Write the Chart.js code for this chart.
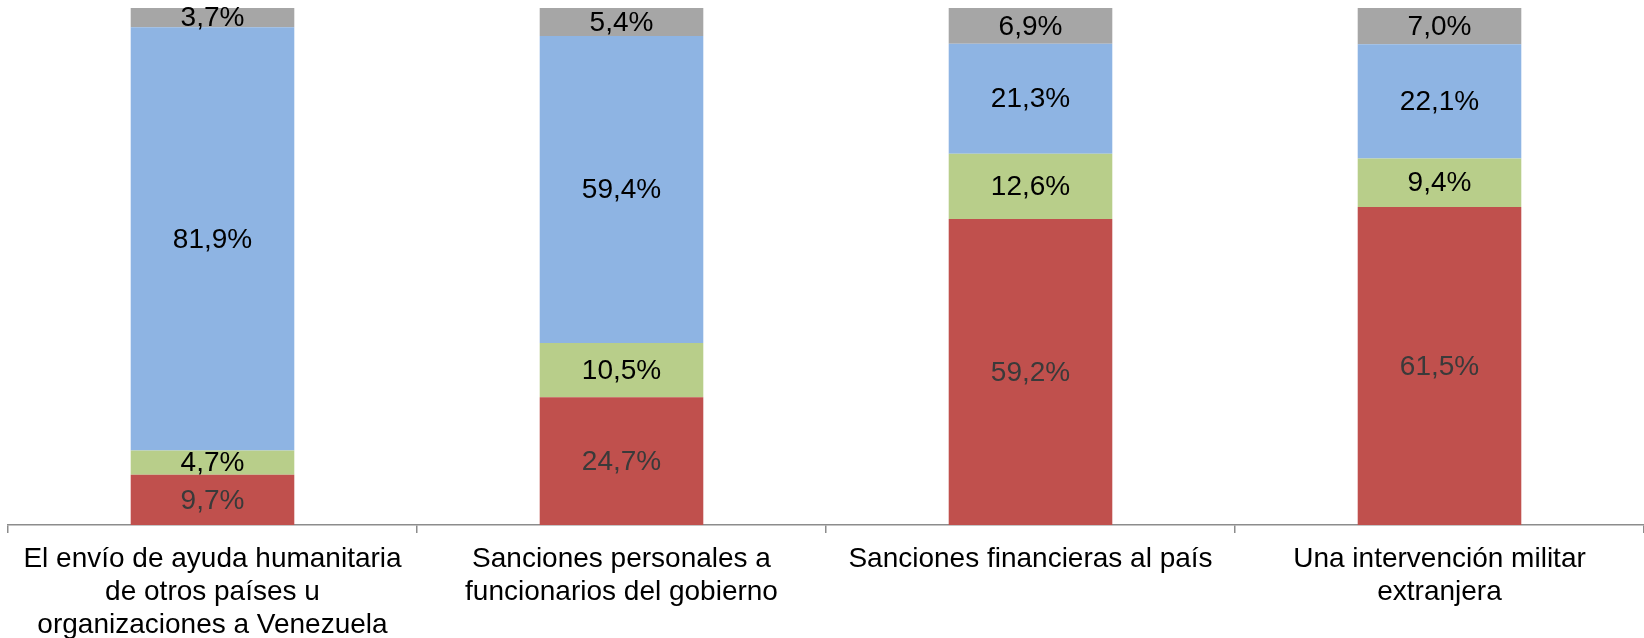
<!DOCTYPE html>
<html>
<head>
<meta charset="utf-8">
<script src="https://cdn.jsdelivr.net/npm/chart.js@4/dist/chart.umd.min.js"></script>
<style>
  body { margin: 0; background: #fff; }
  #wrap { width: 1644px; height: 638px; }
</style>
</head>
<body>
<div id="wrap"><canvas id="chart"></canvas></div>
<script>
// categories, each label split into its lines
const categories = [
    ['El envío de ayuda humanitaria', 'de otros países u', 'organizaciones a Venezuela'],
    ['Sanciones personales a', 'funcionarios del gobierno'],
    ['Sanciones financieras al país'],
    ['Una intervención militar', 'extranjera']
];
// stacked from bottom to top
const redValues = [9.7, 24.7, 59.2, 61.5];
const greenValues = [4.7, 10.5, 12.6, 9.4];
const blueValues = [81.9, 59.4, 21.3, 22.1];
const grayValues = [3.7, 5.4, 6.9, 7.0];

const FONT = 'Liberation Sans, Arial, sans-serif';

// draw the value in the middle of every segment
const segmentLabels = {
    id: 'segmentLabels',
    afterDatasetsDraw(chart) {
        const ctx = chart.ctx;
        ctx.save();
        ctx.font = '28px ' + FONT;
        ctx.textAlign = 'center';
        ctx.textBaseline = 'middle';
        chart.data.datasets.forEach((ds, i) => {
            const meta = chart.getDatasetMeta(i);
            meta.data.forEach((bar, j) => {
                const v = ds.data[j];
                const y = (bar.y + bar.base) / 2;
                ctx.fillStyle = ds.labelColor;
                ctx.fillText(v.toFixed(1).replace('.', ',') + '%', bar.x, y + 1);
            });
        });
        ctx.restore();
    }
};

// category names under the axis, placed at the scale's own tick positions
// (drawn here so the last line may run right to the bottom edge)
const categoryLabels = {
    id: 'categoryLabels',
    afterDraw(chart) {
        const ctx = chart.ctx;
        const xScale = chart.scales.x;
        const top = chart.chartArea.bottom;
        ctx.save();
        ctx.font = '28px ' + FONT;
        ctx.fillStyle = '#000';
        ctx.textAlign = 'center';
        ctx.textBaseline = 'middle';
        chart.data.labels.forEach((lines, i) => {
            const x = xScale.getPixelForTick(i);
            lines.forEach((line, k) => {
                ctx.fillText(line, x, top + 34 + k * 33);
            });
        });
        ctx.restore();
    }
};

const canvas = document.getElementById('chart').getContext('2d');
const myChart = new Chart(canvas, {
    type: 'bar',
    data: {
        labels: categories,
        datasets: [
            { data: redValues, backgroundColor: '#C0504D', labelColor: '#3a3a3a' },
            { data: greenValues, backgroundColor: '#B8CE8A', labelColor: '#000' },
            { data: blueValues, backgroundColor: '#8EB4E3', labelColor: '#000' },
            { data: grayValues, backgroundColor: '#A6A6A6', labelColor: '#000' }
        ]
    },
    options: {
        responsive: true,
        maintainAspectRatio: false,
        animation: false,
        events: [],
        layout: { padding: { top: 8, left: 8, right: 0, bottom: 105 } },
        datasets: {
            bar: { barPercentage: 0.4, categoryPercentage: 1, borderWidth: 0 }
        },
        plugins: {
            legend: { display: false },
            tooltip: { enabled: false }
        },
        scales: {
            x: {
                stacked: true,
                grid: {
                    offset: true,
                    drawOnChartArea: false,
                    drawTicks: true,
                    tickLength: 8,
                    color: '#8c8c8c',
                    lineWidth: 1.5
                },
                border: { display: true, color: '#8c8c8c', width: 1.5 },
                ticks: { display: false, autoSkip: false }
            },
            y: {
                stacked: true,
                display: false,
                min: 0,
                max: 100
            }
        }
    },
    plugins: [segmentLabels, categoryLabels]
});
</script>
</body>
</html>
